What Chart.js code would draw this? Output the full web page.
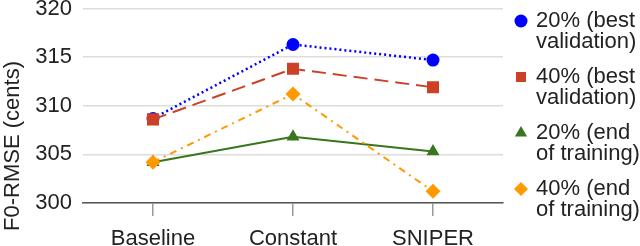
<!DOCTYPE html>
<html>
<head>
<meta charset="utf-8">
<script src="https://cdn.jsdelivr.net/npm/chart.js@4.4.1/dist/chart.umd.min.js"></script>
<style>
  html, body { margin: 0; padding: 0; background: #fff; }
  #wrap { width: 640px; height: 246px; position: relative; }
</style>
</head>
<body>
<div id="wrap"><canvas id="chart" width="640" height="246"></canvas></div>
<script>
// data
const categories = ['Baseline', 'Constant', 'SNIPER'];
const best20 = [308.7, 316.3, 314.7];
const best40 = [308.6, 313.8, 311.9];
const end20 = [304.2, 306.8, 305.3];
const end40 = [304.2, 311.2, 301.2];
const yTicks = [300, 305, 310, 315, 320];
const seriesNames = [
    ['20% (best', 'validation)'],
    ['40% (best', 'validation)'],
    ['20% (end', 'of training)'],
    ['40% (end', 'of training)'],
];

const FONT = "'Liberation Sans', Arial, sans-serif";
const TEXT = '#222';

const series = [
    { data: best20, color: '#0000ff', style: 'circle', radius: 6.5, dash: [2, 3], width: 2.5, order: 4 },
    { data: best40, color: '#cc4125', style: 'rect', radius: 8.5, dash: [14, 7], width: 2, order: 3 },
    { data: end20, color: '#38761d', style: 'triangle', radius: 7.5, dash: [], width: 2, order: 2 },
    { data: end40, color: '#ff9900', style: 'rectRot', radius: 7.5, dash: [7, 5, 2, 5], width: 2, order: 1 },
];

// small marker painter for the side legend
function drawMarker(ctx, style, x, y, r, color) {
    ctx.save();
    ctx.fillStyle = color;
    ctx.beginPath();
    if (style === 'circle') {
        ctx.arc(x, y, r, 0, Math.PI * 2);
    } else if (style === 'rect') {
        ctx.rect(x - r, y - r, 2 * r, 2 * r);
    } else if (style === 'triangle') {
        ctx.moveTo(x, y - r);
        ctx.lineTo(x + r * 0.87, y + r * 0.5);
        ctx.lineTo(x - r * 0.87, y + r * 0.5);
        ctx.closePath();
    } else {
        ctx.moveTo(x, y - r);
        ctx.lineTo(x + r, y);
        ctx.lineTo(x, y + r);
        ctx.lineTo(x - r, y);
        ctx.closePath();
    }
    ctx.fill();
    ctx.restore();
}

const sideLegend = {
    id: 'sideLegend',
    afterDraw(chart) {
        const ctx = chart.ctx;
        const legendSizes = [6.5, 5, 7, 7];
        ctx.save();
        ctx.font = '22px ' + FONT;
        ctx.fillStyle = TEXT;
        ctx.textBaseline = 'middle';
        ctx.textAlign = 'left';
        series.forEach((s, i) => {
            const y = 21 + 56 * i;
            drawMarker(ctx, s.style, 521, y, legendSizes[i], s.color);
            ctx.fillStyle = TEXT;
            ctx.fillText(seriesNames[i][0], 536, y);
            ctx.fillText(seriesNames[i][1], 536, y + 20.5);
        });
        // y axis title
        ctx.translate(19, 146);
        ctx.rotate(-Math.PI / 2);
        ctx.textAlign = 'center';
        ctx.textBaseline = 'alphabetic';
        ctx.fillText('F0-RMSE (cents)', 0, 0);
        ctx.restore();
    }
};

const ctx = document.getElementById('chart').getContext('2d');
new Chart(ctx, {
    type: 'line',
    data: {
        labels: categories,
        datasets: series.map((s, i) => ({
            label: seriesNames[i].join(' '),
            data: s.data,
            borderColor: s.color,
            backgroundColor: s.color,
            borderWidth: s.width,
            borderDash: s.dash,
            pointStyle: s.style,
            pointRadius: s.radius,
            pointHoverRadius: s.radius,
            pointBorderWidth: 0,
            fill: false,
            tension: 0,
            order: s.order,
        })),
    },
    options: {
        responsive: false,
        animation: false,
        layout: { padding: { left: 0, right: 137, top: 0, bottom: 0 } },
        plugins: {
            legend: { display: false },
            tooltip: { enabled: false },
        },
        scales: {
            x: {
                offset: true,
                grid: { drawOnChartArea: false, drawTicks: true, tickLength: 13, color: '#999', lineWidth: 1.5, offset: false },
                border: { color: '#555', width: 1.5 },
                ticks: { font: { family: FONT, size: 22 }, color: TEXT, padding: 10, maxRotation: 0 },
                afterFit(scale) { scale.height = 43; },
            },
            y: {
                min: 300,
                max: 320,
                afterBuildTicks(scale) { scale.ticks = yTicks.map(v => ({ value: v })); },
                grid: { color: '#ddd', lineWidth: 1.5, drawTicks: false },
                border: { display: false },
                ticks: { font: { family: FONT, size: 22 }, color: TEXT, padding: 11 },
                afterFit(scale) {
                    scale.width = 83;
                    scale.paddingTop = 8;
                    scale.paddingBottom = 0;
                },
            },
        },
    },
    plugins: [sideLegend],
});
</script>
</body>
</html>
